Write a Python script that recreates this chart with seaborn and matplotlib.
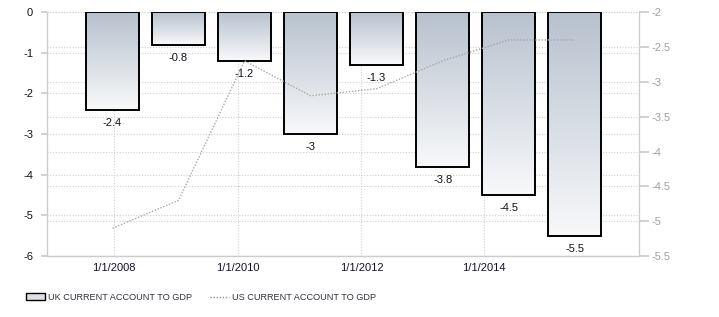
import numpy as np
import pandas as pd
import matplotlib
matplotlib.use("Agg")
import matplotlib.pyplot as plt
import seaborn as sns
from matplotlib.colors import LinearSegmentedColormap
from matplotlib.patches import Patch
from matplotlib.lines import Line2D
from matplotlib.transforms import blended_transform_factory

# ---- data ----
years = ["2007", "2008", "2009", "2010", "2011", "2012", "2013", "2014"]
uk_values = [-2.4, -0.8, -1.2, -3.0, -1.3, -3.8, -4.5, -5.5]
us_values = [-5.1, -4.7, -2.7, -3.2, -3.1, -2.7, -2.4, -2.4]
bar_labels = ["-2.4", "-0.8", "-1.2", "-3", "-1.3", "-3.8", "-4.5", "-5.5"]
xtick_labels = ["1/1/2008", "1/1/2010", "1/1/2012", "1/1/2014"]
left_ticks = [0, -1, -2, -3, -4, -5, -6]
right_ticks = [-2, -2.5, -3, -3.5, -4, -4.5, -5, -5.5]
uk_name = "UK CURRENT ACCOUNT TO GDP"
us_name = "US CURRENT ACCOUNT TO GDP"

sns.set_theme(style="white")
plt.rcParams["font.family"] = ["Liberation Sans", "DejaVu Sans"]

df = pd.DataFrame({"year": years, "uk": uk_values, "us": us_values,
                   "pos": np.arange(len(years))})

fig = plt.figure(figsize=(7.19, 3.17), dpi=100)
ax = fig.add_axes([0.0654, 0.192, 0.889 - 0.0654, 0.962 - 0.192])

sns.barplot(data=df, x="year", y="uk", ax=ax, width=0.803,
            color="white", edgecolor="black", linewidth=1.4, zorder=2)

ax.set_ylim(-6, 0)
ax.set_xlim(-0.992, 7.977)

grid_c = "#cfcfcf"
# x ticks (date axis), positions relative to bar slots
xt = [0.023, 1.90, 3.77, 5.62]
ax.set_xticks(xt)
ax.set_xticklabels(xtick_labels)
ax.set_yticks(left_ticks)
ax.set_yticklabels([str(v) for v in left_ticks])

for v in xt:
    ax.axvline(v, color=grid_c, lw=0.8, ls=(0, (1, 1.5)), zorder=0.5)
for v in left_ticks:
    ax.axhline(v, color=grid_c, lw=0.8, ls=(0, (1, 1.5)), zorder=0.5)

# gradient fill for each bar
cmap = LinearSegmentedColormap.from_list("g", ["#b7c1cd", "#f8f9fb"])
grad = np.linspace(0, 1, 256).reshape(-1, 1)
for p, lab in zip(ax.patches, bar_labels):
    x0 = p.get_x(); w = p.get_width()
    y0 = p.get_y(); h = p.get_height()
    ytop, ybot = max(y0, y0 + h), min(y0, y0 + h)
    im = ax.imshow(grad, cmap=cmap, extent=[x0, x0 + w, ybot, ytop],
                   origin="upper", aspect="auto", zorder=1.5,
                   interpolation="bilinear")
    im.set_clip_path(p)
    p.set_facecolor("none")
    ax.annotate(lab, (x0 + w / 2, ybot), xytext=(0, -13),
                textcoords="offset pixels",
                ha="center", va="center", fontsize=8, color="#111122",
                zorder=3)

ax.set_xlim(-0.992, 7.977)
ax.set_ylim(-6, 0)

# secondary axis with US line
ax2 = ax.twinx()
sns.lineplot(data=df, x="pos", y="us", ax=ax2, color="#a8a8a8",
             lw=1.0, ls=(0, (1, 1.2)), zorder=4)
ax2.set_ylim(-5.5, -2)
ax2.set_yticks(right_ticks)
ax2.set_yticklabels([("%g" % v) for v in right_ticks])
ax.set_xlim(-0.992, 7.977)
ax2.set_xlim(-0.992, 7.977)

tr = blended_transform_factory(ax.transAxes, ax2.transData)
for v in right_ticks:
    ax.plot([0, 1], [v, v], transform=tr, color=grid_c, lw=0.8,
            ls=(0, (1, 1.5)), zorder=0.5)

for a in (ax, ax2):
    a.set_xlabel("")
    a.set_ylabel("")
    a.spines["top"].set_visible(False)
    for s in ("left", "right", "bottom"):
        a.spines[s].set_color("#cccccc")
        a.spines[s].set_linewidth(1)
ax.spines["right"].set_visible(False)
ax2.spines["left"].set_visible(False)
ax2.spines["bottom"].set_visible(False)

ax.tick_params(axis="y", left=True, length=4, color="#cccccc",
               labelsize=8, labelcolor="#111122", pad=6)
ax.tick_params(axis="x", bottom=False, length=0, labelsize=8,
               labelcolor="#111133", pad=5)
ax2.tick_params(axis="y", right=True, length=7, color="#cccccc",
                labelsize=8, labelcolor="#a0a0a0", pad=2)

handles = [Patch(facecolor="#dde1e7", edgecolor="black", linewidth=1.0),
           Line2D([0], [0], color="#909090", lw=1.0, ls=(0, (1, 1.2)))]
fig.legend(handles, [uk_name, us_name], loc="center left",
           bbox_to_anchor=(0.0246, 0.062), ncol=2, frameon=False,
           fontsize=6.6, handlelength=2.07, handleheight=0.8,
           handletextpad=0.33, columnspacing=1.96, labelcolor="#333344")

fig.savefig("out.png", dpi=100)
